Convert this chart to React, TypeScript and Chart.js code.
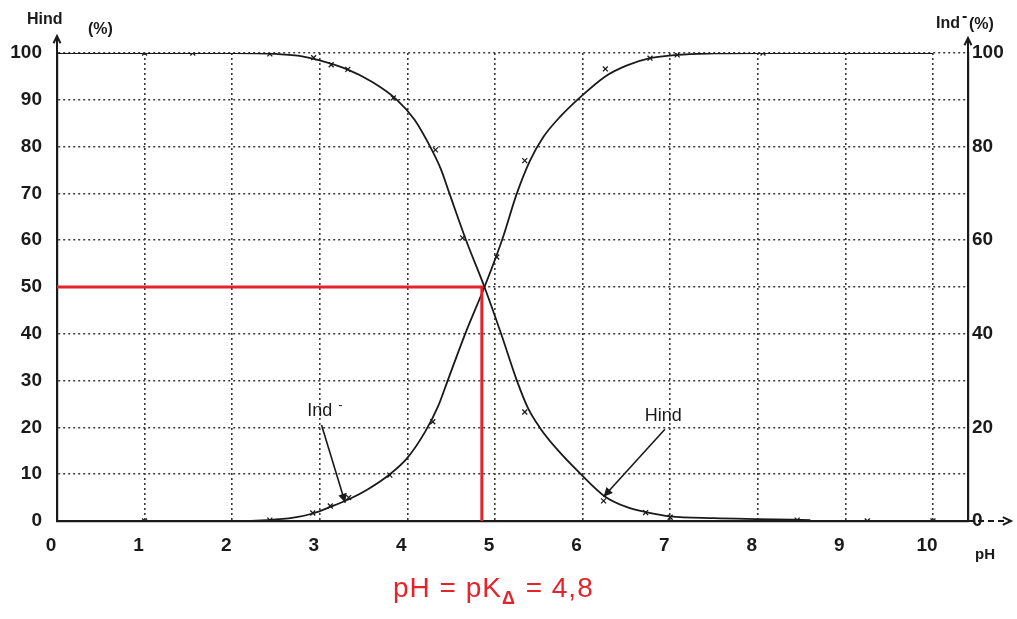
import React, { useEffect, useRef } from "react";
import { Chart, registerables } from "chart.js";
Chart.register(...registerables);

// ---- data ----
const phTicks = [0, 1, 2, 3, 4, 5, 6, 7, 8, 9, 10];
const leftTicks = [0, 10, 20, 30, 40, 50, 60, 70, 80, 90, 100];
const rightTicks = [0, 20, 40, 60, 80, 100];

const hindPH = [0, 1, 2, 2.5, 2.8, 3.0, 3.3, 3.6, 3.88, 4.08, 4.26, 4.38, 4.48, 4.67, 4.88, 5.07, 5.25, 5.38, 5.51, 5.7, 5.98, 6.25, 6.5, 6.75, 7.0, 7.5, 8.0, 8.6];
const hindVal = [100, 100, 100, 99.8, 99.3, 98.4, 96.6, 93.8, 90, 85.8, 80, 75.3, 70, 60, 50, 40, 30, 24, 20, 15.5, 10, 5.3, 3.0, 1.8, 1.0, 0.6, 0.4, 0.2];

const indPH = [0, 1, 2, 2.4, 2.7, 2.92, 3.12, 3.35, 3.55, 3.8, 4.0, 4.2, 4.35, 4.46, 4.66, 4.88, 5.08, 5.25, 5.4, 5.55, 5.75, 6.0, 6.26, 6.5, 6.77, 7.08, 7.5, 8.06, 9, 10];
const indVal = [0, 0, 0, 0.2, 0.7, 1.6, 3.0, 4.8, 6.8, 10, 13.5, 19, 24.5, 30, 40, 50, 60, 70, 77, 82, 86.5, 91, 95, 97.3, 98.9, 99.6, 99.9, 100, 100, 100];

const hindMarkPH = [1.0, 1.55, 2.43, 2.93, 3.13, 3.32, 3.84, 4.32, 4.63, 5.34, 6.24, 6.72, 7.0, 8.45, 9.25, 10.0];
const hindMarkVal = [100, 100, 99.8, 99, 97.5, 96.5, 90.4, 79.3, 60.5, 23.3, 4.3, 1.8, 0.8, 0.2, 0, 0];
const indMarkPH = [1.0, 2.43, 2.92, 3.12, 3.33, 3.8, 4.29, 5.02, 5.34, 6.26, 6.77, 7.08, 8.06];
const indMarkVal = [0, 0.2, 1.7, 3.2, 5, 9.8, 21.2, 56.4, 77, 96.6, 98.9, 99.6, 100];

const pKaPH = [0, 4.85, 4.85];
const pKaVal = [50, 50, 0];

// annotation pointers [pH, %] : label anchor, arrow start, arrow tip
const indLabel = { text: "Ind", at: [3.0, 23.5], from: [3.02, 20.5], to: [3.29, 3.9] };
const hindLabel = { text: "Hind", at: [6.92, 22.5], from: [6.94, 19.6], to: [6.24, 5.2] };

const RED = "#e3242b";
const INK = "#1a1a1a";
const GRID = "#3a3a3a";
const TICK_FONT = { family: "'Liberation Sans', Arial, sans-serif", size: 19, weight: "bold" as const };

function pts(xs: number[], ys: number[]) {
  return xs.map((x, i) => ({ x, y: ys[i] }));
}

function arrowHead(ctx: CanvasRenderingContext2D, x0: number, y0: number, x1: number, y1: number, len: number, filled: boolean) {
  const a = Math.atan2(y1 - y0, x1 - x0);
  const s = 0.45;
  ctx.beginPath();
  ctx.moveTo(x1 - len * Math.cos(a - s), y1 - len * Math.sin(a - s));
  ctx.lineTo(x1, y1);
  ctx.lineTo(x1 - len * Math.cos(a + s), y1 - len * Math.sin(a + s));
  if (filled) {
    ctx.closePath();
    ctx.fill();
  } else ctx.stroke();
}

const decor = {
  id: "decor",
  afterDraw(chart: any) {
    const ctx: CanvasRenderingContext2D = chart.ctx;
    const xs = chart.scales.x;
    const ys = chart.scales.y;
    const area = chart.chartArea;
    ctx.save();
    ctx.strokeStyle = INK;
    ctx.fillStyle = INK;
    ctx.lineWidth = 2;
    // left axis extension + arrow
    ctx.beginPath();
    ctx.moveTo(area.left, area.top);
    ctx.lineTo(area.left, area.top - 16);
    ctx.stroke();
    arrowHead(ctx, area.left, area.top, area.left, area.top - 17, 8, false);
    // right axis extension + arrow
    ctx.beginPath();
    ctx.moveTo(area.right, area.top);
    ctx.lineTo(area.right, area.top - 14);
    ctx.stroke();
    arrowHead(ctx, area.right, area.top, area.right, area.top - 15, 8, false);
    // x axis extension + arrow
    ctx.setLineDash([6, 4]);
    ctx.beginPath();
    ctx.moveTo(area.right, area.bottom);
    ctx.lineTo(area.right + 42, area.bottom);
    ctx.stroke();
    ctx.setLineDash([]);
    arrowHead(ctx, area.right, area.bottom, area.right + 43, area.bottom, 9, false);

    // axis titles
    ctx.font = "bold 16px 'Liberation Sans', Arial, sans-serif";
    ctx.textBaseline = "middle";
    ctx.textAlign = "left";
    ctx.fillText("Hind", 27, 20);
    ctx.fillText("(%)", 88, 30);
    ctx.fillText("Ind", 936, 24);
    const w = ctx.measureText("Ind").width;
    ctx.fillText("-", 936 + w + 2, 17);
    ctx.fillText("(%)", 936 + w + 9, 25);
    ctx.font = "bold 15px 'Liberation Sans', Arial, sans-serif";
    ctx.fillText("pH", 975, 555);

    // curve labels and pointers
    ctx.font = "18px 'Liberation Sans', Arial, sans-serif";
    ctx.lineWidth = 1.6;
    for (const lab of [indLabel, hindLabel]) {
      const lx = xs.getPixelForValue(lab.at[0]);
      const ly = ys.getPixelForValue(lab.at[1]);
      ctx.textAlign = "center";
      ctx.fillText(lab.text, lx, ly);
      if (lab === indLabel) {
        const tw = ctx.measureText(lab.text).width;
        ctx.font = "13px 'Liberation Sans', Arial, sans-serif";
        ctx.fillText("-", lx + tw / 2 + 8, ly - 6);
        ctx.font = "18px 'Liberation Sans', Arial, sans-serif";
      }
      const x0 = xs.getPixelForValue(lab.from[0]);
      const y0 = ys.getPixelForValue(lab.from[1]);
      const x1 = xs.getPixelForValue(lab.to[0]);
      const y1 = ys.getPixelForValue(lab.to[1]);
      ctx.beginPath();
      ctx.moveTo(x0, y0);
      ctx.lineTo(x1, y1);
      ctx.stroke();
      arrowHead(ctx, x0, y0, x1, y1, 10, true);
    }

    // red caption
    ctx.fillStyle = RED;
    ctx.textAlign = "left";
    ctx.textBaseline = "alphabetic";
    (ctx as any).letterSpacing = "1px";
    ctx.font = "28px 'Liberation Sans', Arial, sans-serif";
    let cx = 393;
    const base = 597;
    const p1 = "pH = pK";
    ctx.fillText(p1, cx, base);
    cx += ctx.measureText(p1).width;
    ctx.font = "bold 18px 'Liberation Sans', Arial, sans-serif";
    ctx.fillText("\u0394", cx, base + 7);
    cx += ctx.measureText("\u0394").width + 1;
    ctx.font = "28px 'Liberation Sans', Arial, sans-serif";
    ctx.fillText(" = 4,8", cx, base);
    ctx.restore();
  },
};

export default function App() {
  const ref = useRef<HTMLCanvasElement>(null);
  useEffect(() => {
    if (!ref.current) return;
    const chart = new Chart(ref.current, {
      type: "line",
      data: {
        datasets: [
          {
            label: "pKa",
            data: pts(pKaPH, pKaVal),
            borderColor: RED,
            borderWidth: 3,
            pointRadius: 0,
            tension: 0,
          },
          {
            label: "Hind",
            data: pts(hindPH, hindVal),
            borderColor: INK,
            borderWidth: 1.8,
            pointRadius: 0,
            cubicInterpolationMode: "monotone",
          },
          {
            label: "Ind-",
            data: pts(indPH, indVal),
            borderColor: INK,
            borderWidth: 1.8,
            pointRadius: 0,
            cubicInterpolationMode: "monotone",
          },
          {
            label: "Hind pts",
            data: pts(hindMarkPH, hindMarkVal),
            showLine: false,
            pointStyle: "crossRot",
            pointRadius: 3.5,
            borderColor: INK,
            borderWidth: 1.3,
          },
          {
            label: "Ind pts",
            data: pts(indMarkPH, indMarkVal),
            showLine: false,
            pointStyle: "crossRot",
            pointRadius: 3.5,
            borderColor: INK,
            borderWidth: 1.3,
          },
        ],
      },
      options: {
        animation: false,
        responsive: false,
        devicePixelRatio: 1,
        layout: { padding: { left: 0, right: 0, top: 53, bottom: 0 } },
        plugins: { legend: { display: false }, tooltip: { enabled: false } },
        scales: {
          x: {
            type: "linear",
            min: 0,
            max: 10.4,
            afterBuildTicks: (s: any) => {
              s.ticks = phTicks.map((v) => ({ value: v }));
            },
            afterFit: (s: any) => {
              s.height = 98;
            },
            ticks: { font: TICK_FONT, color: INK, padding: 13, labelOffset: -6, maxRotation: 0, autoSkip: false },
            grid: { color: GRID, lineWidth: 1.6, drawTicks: false },
            border: { display: true, color: INK, width: 2.2, dash: [2, 3] },
          },
          y: {
            type: "linear",
            position: "left",
            min: 0,
            max: 100,
            afterBuildTicks: (s: any) => {
              s.ticks = leftTicks.map((v) => ({ value: v }));
            },
            afterFit: (s: any) => {
              s.width = 57;
            },
            ticks: { font: TICK_FONT, color: INK, padding: 15 },
            grid: { color: GRID, lineWidth: 1.6, drawTicks: false },
            border: { display: true, color: INK, width: 2.2, dash: [2, 3] },
          },
          y2: {
            type: "linear",
            position: "right",
            min: 0,
            max: 100,
            afterBuildTicks: (s: any) => {
              s.ticks = rightTicks.map((v) => ({ value: v }));
            },
            afterFit: (s: any) => {
              s.width = 49;
            },
            ticks: { font: TICK_FONT, color: INK, padding: 4 },
            grid: { display: false, drawTicks: false },
            border: { display: true, color: INK, width: 2.2 },
          },
        },
      },
      plugins: [decor],
    } as any);
    return () => chart.destroy();
  }, []);
  return (
    <div style={{ position: "fixed", left: 0, top: 0, width: 1017, height: 619, background: "#fff" }}>
      <canvas ref={ref} width={1017} height={619} />
    </div>
  );
}
